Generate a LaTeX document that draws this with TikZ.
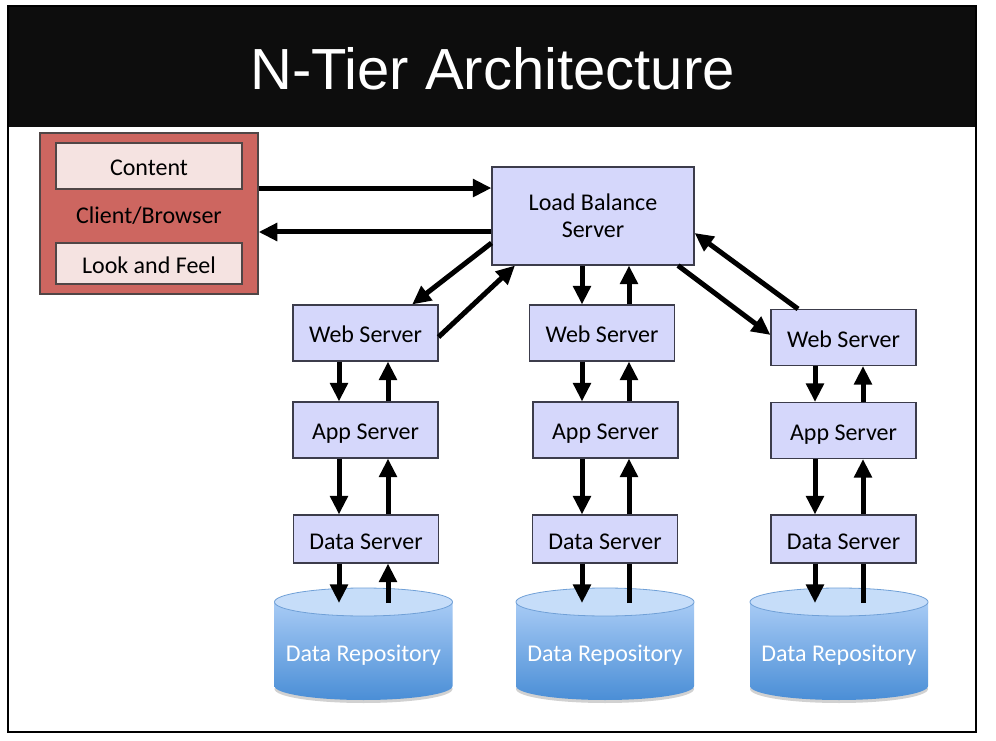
\documentclass[tikz,border=0pt]{standalone}
\usepackage{fontspec}
\setmainfont{Carlito}
\newfontfamily\titlefont{Liberation Sans}
\usetikzlibrary{arrows.meta}

\definecolor{barblack}{RGB}{13,13,13}
\definecolor{clientred}{RGB}{205,102,96}
\definecolor{clientline}{RGB}{80,70,70}
\definecolor{partfill}{RGB}{245,227,225}
\definecolor{serverfill}{RGB}{213,215,251}
\definecolor{serverline}{RGB}{60,60,75}
\definecolor{repotop}{RGB}{168,203,245}
\definecolor{repobot}{RGB}{74,142,214}
\definecolor{repocap}{RGB}{198,221,249}
\definecolor{repoline}{RGB}{112,160,215}

\begin{document}
\begin{tikzpicture}[x=0.75pt, y=-0.75pt,
    textfont/.style={font=\fontsize{18}{21}\selectfont},
    oneline/.style={text height=15pt, text depth=0pt},
    client/.style={draw=clientline, fill=clientred, line width=0.9pt, inner sep=0pt, textfont, oneline},
    clientpart/.style={draw=clientline, fill=partfill, line width=0.9pt, inner sep=0pt,
        minimum width=139.5pt, textfont, oneline},
    box/.style={draw=serverline, fill=serverfill, line width=0.8pt, inner sep=0pt, textfont},
    server/.style={box, oneline, minimum width=108.75pt, minimum height=42pt},
    dataserver/.style={server, minimum height=36pt},
    repotext/.style={text=white, textfont, oneline},
    shaft/.style={line width=3.75pt},
    arr/.style={shaft, -{Triangle[length=14pt,width=13pt]}}]

    % Page and title bar
    \useasboundingbox (0,0) rectangle (996,741);
    \fill[white] (0,0) rectangle (996,741);
    \fill[barblack] (8,6) rectangle (976,127);
    \draw[line width=1.5pt] (8,6) rectangle (976,732);
    \node[text=white, font=\titlefont\fontsize{43.5}{50}\selectfont] (title) at (492.5,69) {N-Tier Architecture};

    % Client/Browser
    \node[client, minimum width=163.5pt, minimum height=120.75pt] (cb) at (149,213.5) {Client/Browser};
    \node[clientpart, minimum height=34.5pt] (ct) at (149,166) {Content};
    \node[clientpart, minimum height=30.75pt] (lf) at (149,263.5) {Look and Feel};

    % Load balancer
    \node[box, minimum width=151.5pt, minimum height=73.5pt, align=center] (lb) at (593,216) {Load Balance\\[-0.5pt]Server};

    % Web, app and data servers
    \node[server] (w1) at (365.5,333) {Web Server};
    \node[server] (w2) at (602,333) {Web Server};
    \node[server] (w3) at (843.5,337.5) {Web Server};
    \node[server] (a1) at (365.5,430) {App Server};
    \node[server] (a2) at (605.5,430) {App Server};
    \node[server] (a3) at (843.5,430.5) {App Server};
    \node[dataserver] (d1) at (366,539) {Data Server};
    \node[dataserver] (d2) at (605,539) {Data Server};
    \node[dataserver] (d3) at (843.5,539) {Data Server};

    % Data repositories
    \foreach \i/\cx in {1/363.5, 2/605, 3/839} {
        \fill[black!18] (\cx,689) ellipse[x radius=89, y radius=14];
        \shade[top color=repotop, bottom color=repobot] (\cx-89,602) -- (\cx-89,686)
            arc[start angle=180, end angle=0, x radius=89, y radius=14] -- (\cx+89,602) -- cycle;
        \filldraw[fill=repocap, draw=repoline, line width=0.6pt] (\cx,602) ellipse[x radius=89, y radius=14];
        \coordinate (rt\i) at (\cx,603);
        \node[repotext] (r\i) at (\cx,651.5) {Data Repository};
    }

    % Lines of the arrows in each column
    \foreach \i/\dn/\up in {1/339/388, 2/582/629, 3/815/863} {
        \coordinate (dn\i) at (\dn,0);
        \coordinate (up\i) at (\up,0);
    }

    % Client <-> load balancer
    \draw[arr] ([yshift=19.1pt]cb.east) -- ([yshift=19.1pt]cb.east -| lb.west);
    \draw[arr] ([yshift=-12pt]lb.west) -- ([yshift=-12pt]lb.west -| cb.east);

    % Load balancer <-> web servers
    \draw[arr] ([yshift=-20.25pt]lb.west) -- ([xshift=35pt]w1.north);
    \draw[arr] ([yshift=-3pt]w1.east) -- ([xshift=-58.5pt]lb.south);
    \draw[arr] (dn2 |- lb.south) -- (dn2 |- w2.north);
    \draw[arr] (up2 |- w2.north) -- (up2 |- lb.south);
    \draw[arr] ([xshift=63.75pt]lb.south) -- ([yshift=1.9pt]w3.west);
    \draw[arr] ([xshift=-34.1pt]w3.north) -- ([yshift=-12.75pt]lb.east);

    % Web -> app -> data -> repository
    \foreach \i in {1,2,3} {
        \draw[arr] (dn\i |- w\i.south) -- (dn\i |- a\i.north);
        \draw[arr] (up\i |- a\i.north) -- (up\i |- w\i.south);
        \draw[arr] (dn\i |- a\i.south) -- (dn\i |- d\i.north);
        \draw[arr] (up\i |- d\i.north) -- (up\i |- a\i.south);
        \draw[arr] (dn\i |- d\i.south) -- (dn\i |- rt\i);
    }
    \draw[arr] (up1 |- rt1) -- (up1 |- d1.south);
    \draw[shaft] (up2 |- rt2) -- (up2 |- d2.south);
    \draw[shaft] (up3 |- rt3) -- (up3 |- d3.south);

\end{tikzpicture}
\end{document}
